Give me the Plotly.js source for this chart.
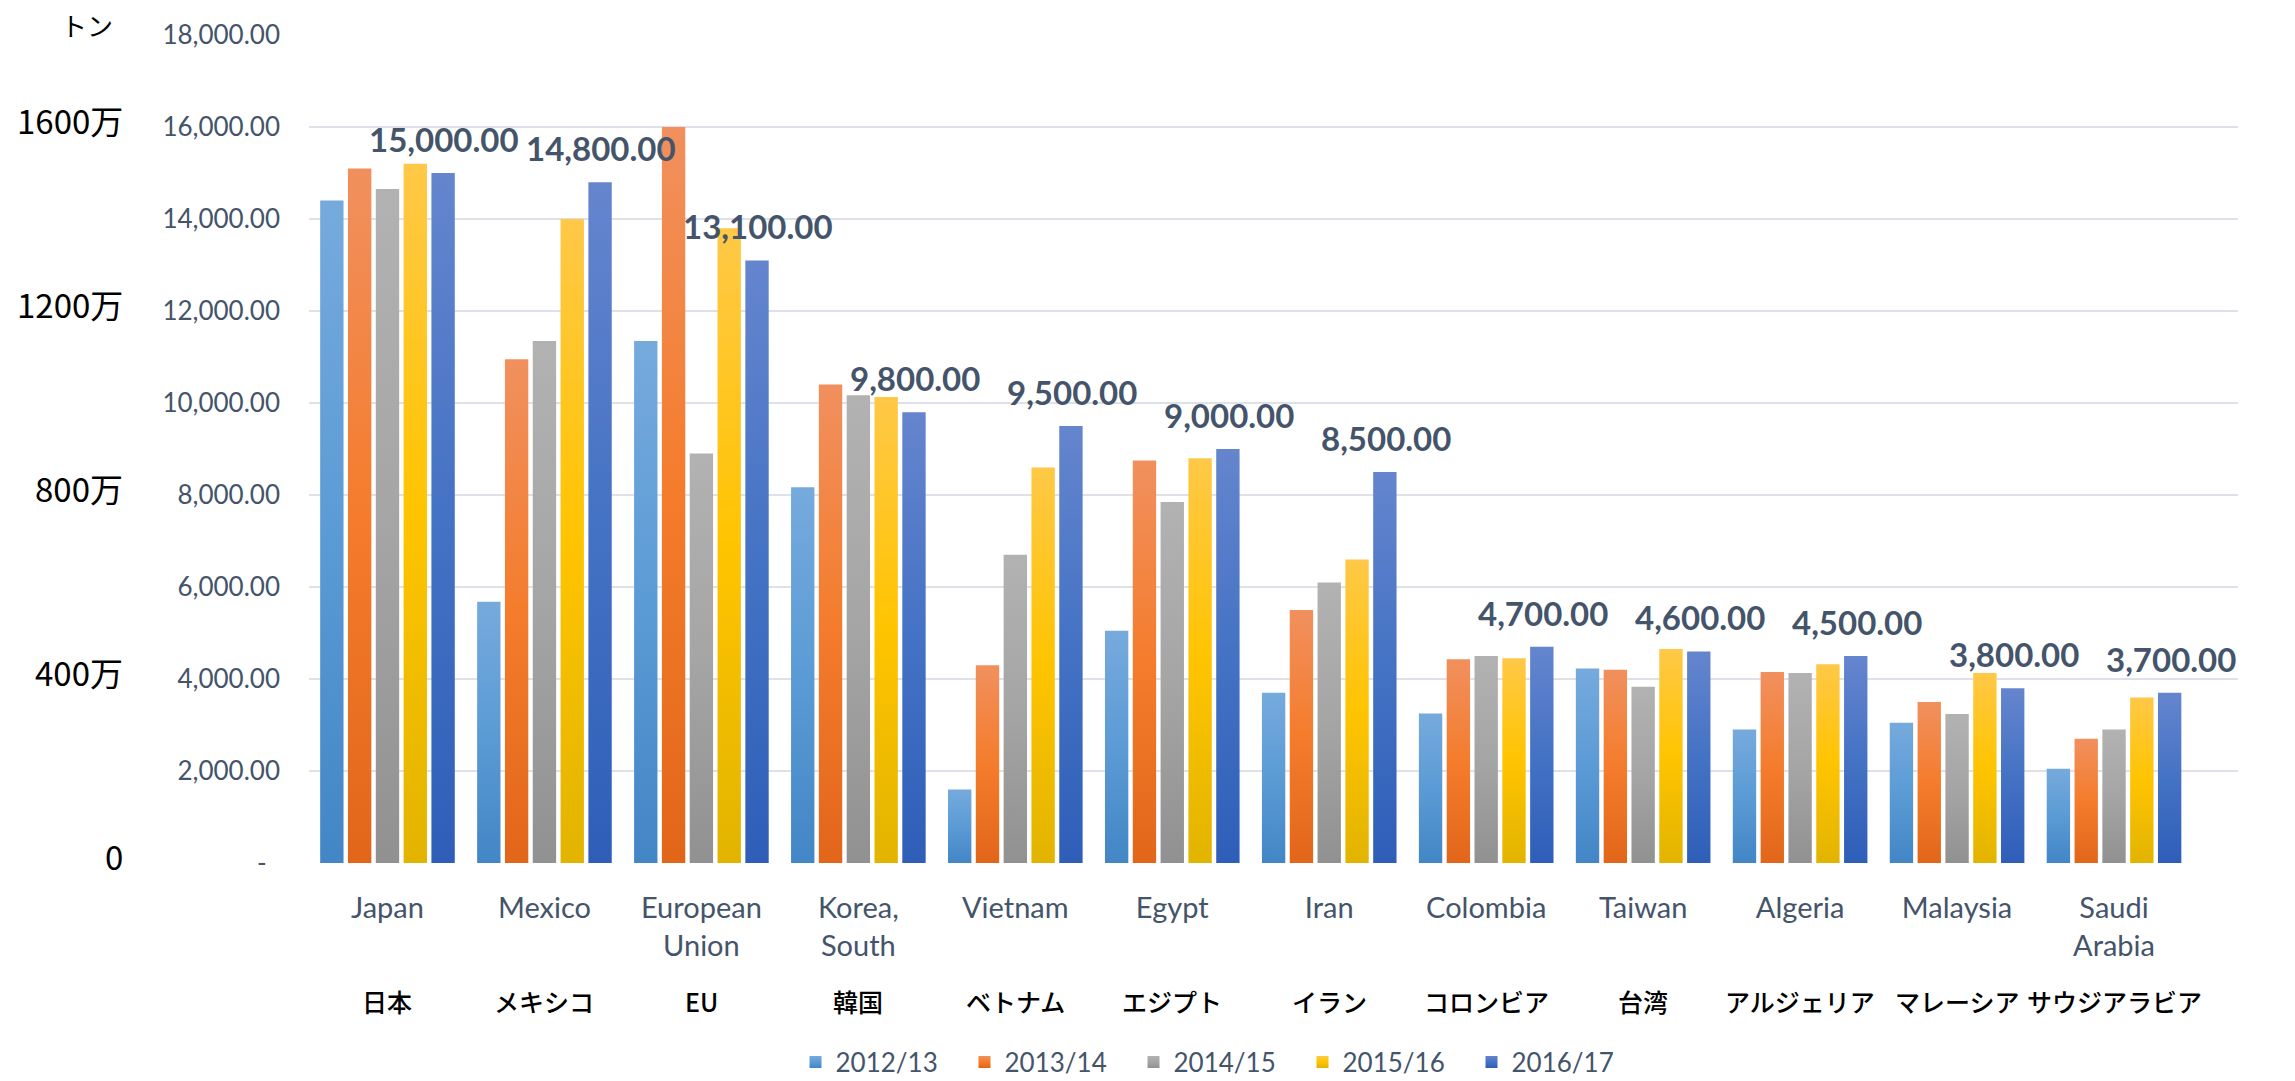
<!DOCTYPE html>
<html>
<head>
<meta charset="utf-8">
<script src="https://cdn.plot.ly/plotly-3.0.1.min.js"></script>
<style>
html,body{margin:0;padding:0;background:#ffffff;}
#chart{width:2295px;height:1081px;}
</style>
</head>
<body>
<div id="chart"></div>
<script>
// ---------------- data ----------------
const categories = ['Japan','Mexico','European Union','Korea, South','Vietnam','Egypt','Iran','Colombia','Taiwan','Algeria','Malaysia','Saudi Arabia'];
const categoryLabels = ['Japan','Mexico','European<br>Union','Korea,<br>South','Vietnam','Egypt','Iran','Colombia','Taiwan','Algeria','Malaysia','Saudi<br>Arabia'];
const japaneseLabels = ['日本','メキシコ','EU','韓国','ベトナム','エジプト','イラン','コロンビア','台湾','アルジェリア','マレーシア','サウジアラビア'];

const seriesNames = ['2012/13','2013/14','2014/15','2015/16','2016/17'];
const v2012_13 = [14400, 5680, 11350, 8170, 1600, 5050, 3700, 3250, 4230, 2900, 3050, 2050];
const v2013_14 = [15100, 10950, 16000, 10400, 4300, 8750, 5500, 4430, 4200, 4150, 3500, 2700];
const v2014_15 = [14650, 11350, 8900, 10170, 6700, 7850, 6100, 4500, 3830, 4130, 3240, 2900];
const v2015_16 = [15200, 14000, 13800, 10130, 8600, 8800, 6600, 4450, 4650, 4320, 4130, 3600];
const v2016_17 = [15000, 14800, 13100, 9800, 9500, 9000, 8500, 4700, 4600, 4500, 3800, 3700];

const yTickVals = [0,2000,4000,6000,8000,10000,12000,14000,16000,18000];
const yTickText = ['-\u00a0\u00a0','2,000.00','4,000.00','6,000.00','8,000.00','10,000.00','12,000.00','14,000.00','16,000.00','18,000.00'];
const manTickVals = [0,4000,8000,12000,16000];
const manTickText = ['0','400万','800万','1200万','1600万'];
const unitLabel = 'トン';

// ---------------- style ----------------
const W = 2295, H = 1081;
const M = {l:0, r:57, t:35, b:218};
const plotW = W - M.l - M.r;          // 2238
const plotH = H - M.t - M.b;          // 828
const xStart = 309 / plotW;
const bargap = 0.114, bargroupgap = 0.16;
const slate = '#44546A';

const baseColors = ['#5B9BD5','#ED7D31','#A5A5A5','#FFC000','#4472C4'];
const gradStops = [
  ['#76AADD','#5B9BD5','#4386C6'],
  ['#F1905E','#F47C2C','#E2661A'],
  ['#B2B2B2','#A5A5A5','#919191'],
  ['#FFC847','#FFC400','#E2B400'],
  ['#6585CE','#4472C4','#2E5EB8']
];

const seriesValues = [v2012_13, v2013_14, v2014_15, v2015_16, v2016_17];

const traces = seriesNames.map((name, i) => ({
  type: 'bar',
  name: name,
  x: categories,
  y: seriesValues[i],
  marker: {color: baseColors[i]},
  hoverinfo: 'x+y+name'
}));

// data labels above the 2016/17 bars
const catPx = plotW * (1 - xStart) / categories.length;
const slotPx = catPx * (1 - bargap) / seriesNames.length;
const lastOffset = 2 * slotPx;
const fmt = v => v.toLocaleString('en-US', {minimumFractionDigits:2, maximumFractionDigits:2});

const annotations = [];
categories.forEach((c, k) => annotations.push({
  x: c, y: v2016_17[k], xref: 'x', yref: 'y',
  text: fmt(v2016_17[k]),
  showarrow: false, xanchor: 'center', yanchor: 'bottom',
  xshift: lastOffset, yshift: 12,
  font: {family: 'Lato', size: 33, color: slate, weight: 700}
}));
// Japanese names row under the category axis
categories.forEach((c, k) => annotations.push({
  x: c, xref: 'x', y: (863 - 1001) / plotH, yref: 'paper',
  text: japaneseLabels[k], showarrow: false, xanchor: 'center', yanchor: 'middle',
  font: {family: 'Noto Sans CJK JP', size: 25, color: '#000000', weight: 500}
}));
// 万-ton scale on the far left
manTickVals.forEach((v, k) => annotations.push({
  x: 125 / plotW, xref: 'paper', y: v, yref: 'y', yshift: 7,
  text: manTickText[k], showarrow: false, xanchor: 'right', yanchor: 'middle',
  font: {family: 'Noto Sans CJK JP', size: 33, color: '#000000'}
}));
annotations.push({
  x: 87 / plotW, y: (863 - 25) / plotH, xref: 'paper', yref: 'paper',
  text: unitLabel, showarrow: false, xanchor: 'center', yanchor: 'middle',
  font: {family: 'Noto Sans CJK JP', size: 26, color: '#000000'}
});

const layout = {
  width: W, height: H,
  margin: M,
  paper_bgcolor: '#ffffff', plot_bgcolor: '#ffffff',
  barmode: 'group', bargap: bargap, bargroupgap: bargroupgap,
  showlegend: true,
  legend: {
    orientation: 'h', xref: 'container', yref: 'container',
    x: 1218 / W, xanchor: 'center', y: 19 / H, yanchor: 'middle',
    font: {family: 'Lato', size: 26, color: slate},
    entrywidth: 124, entrywidthmode: 'pixels',
    traceorder: 'normal', itemclick: false, itemdoubleclick: false
  },
  xaxis: {
    domain: [xStart, 1], type: 'category', categoryarray: categories,
    tickmode: 'array', tickvals: categories, ticktext: categoryLabels,
    tickfont: {family: 'Lato', size: 29, color: slate},
    ticks: '', showline: false, showgrid: false, zeroline: false,
    ticklabelstandoff: 25, fixedrange: true
  },
  yaxis: {
    range: [0, 18000], tickmode: 'array', tickvals: yTickVals, ticktext: yTickText,
    tickfont: {family: 'Lato', size: 26, color: slate},
    gridcolor: '#DEE2E8', gridwidth: 2, zeroline: false, showline: false, ticks: '',
    ticklabelstandoff: 28, fixedrange: true
  },
  annotations: annotations
};

const gd = document.getElementById('chart');
Plotly.newPlot(gd, traces, layout, {displayModeBar: false, staticPlot: true}).then(() => {
  const NS = 'http://www.w3.org/2000/svg';
  const svg = gd.querySelector('svg.main-svg');
  let defs = svg.querySelector('defs');
  if (!defs) { defs = document.createElementNS(NS, 'defs'); svg.insertBefore(defs, svg.firstChild); }
  gradStops.forEach((stops, i) => {
    const lg = document.createElementNS(NS, 'linearGradient');
    lg.setAttribute('id', 'barGrad' + i);
    lg.setAttribute('x1', '0'); lg.setAttribute('y1', '0');
    lg.setAttribute('x2', '0'); lg.setAttribute('y2', '1');
    stops.forEach((c, j) => {
      const s = document.createElementNS(NS, 'stop');
      s.setAttribute('offset', (j / (stops.length - 1) * 100) + '%');
      s.setAttribute('stop-color', c);
      lg.appendChild(s);
    });
    defs.appendChild(lg);
  });
  gd.querySelectorAll('.barlayer .trace').forEach((g, i) => {
    g.querySelectorAll('path').forEach(p => { p.style.fill = 'url(#barGrad' + i + ')'; });
  });
  gd.querySelectorAll('.legend .traces').forEach((g, i) => {
    g.querySelectorAll('.legendpoints path').forEach(p => { p.style.fill = 'url(#barGrad' + i + ')'; });
  });
});
</script>
</body>
</html>
